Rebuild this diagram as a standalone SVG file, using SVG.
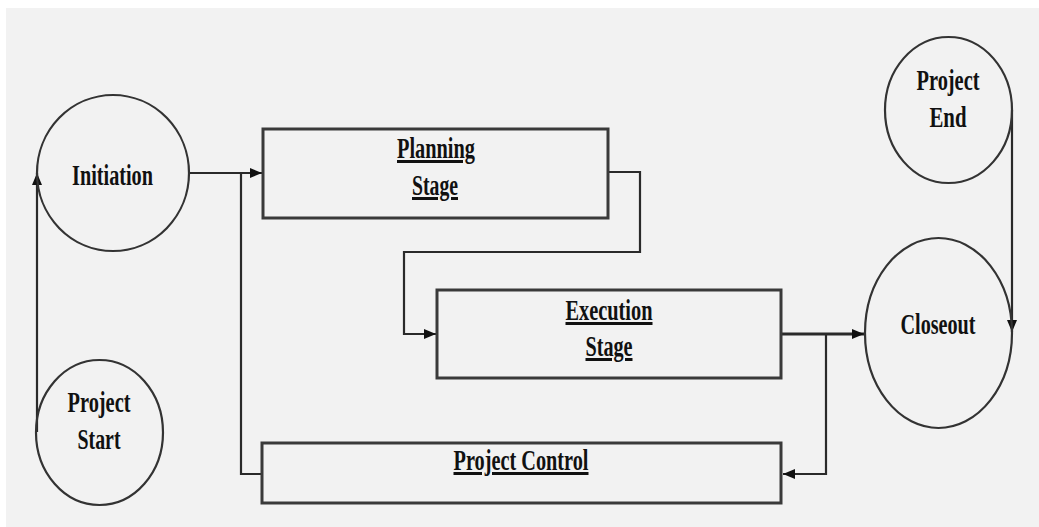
<svg xmlns="http://www.w3.org/2000/svg" width="1039" height="527" viewBox="0 0 1039 527">
  <style>
    .bg { fill: #f2f2f2; }
    .oval { fill: none; stroke: #333; stroke-width: 2.2; }
    .box { fill: none; stroke: #3a3a3a; stroke-width: 3; }
    .conn { fill: none; stroke: #2a2a2a; stroke-width: 2.2; }
    .thick { stroke-width: 3; }
    .lbl { font-family: "Liberation Serif", "Times New Roman", serif; font-weight: bold; font-size: 30px; fill: #111; text-anchor: middle; }
    .ul { text-decoration: underline; }
  </style>
  <defs>
    <marker id="arr" viewBox="0 0 12 10" refX="12" refY="5" markerWidth="12" markerHeight="10" markerUnits="userSpaceOnUse" orient="auto">
      <path d="M0,0 L12,5 L0,10 Z" fill="#111"/>
    </marker>
  </defs>
  <rect width="1039" height="527" fill="#ffffff"/>
  <rect class="bg" x="6" y="8" width="1033" height="519"/>

  <g id="connectors">
    <path class="conn" d="M37,432 L37,173" marker-end="url(#arr)"/>
    <path class="conn" d="M189,173 L262,173" marker-end="url(#arr)"/>
    <path class="conn" d="M608,172 L640,172 L640,252 L404,252 L404,334 L436,334" marker-end="url(#arr)"/>
    <path class="conn thick" d="M781,334 L864,334" marker-end="url(#arr)"/>
    <path class="conn" d="M826,334 L826,474 L783,474" marker-end="url(#arr)"/>
    <path class="conn" d="M262,474 L241,474 L241,173"/>
    <path class="conn" d="M1012,110 L1012,332" marker-end="url(#arr)"/>
  </g>

  <g id="initiation">
    <ellipse class="oval" cx="113" cy="173" rx="76" ry="78"/>
    <text class="lbl" x="112.5" y="185" textLength="81" lengthAdjust="spacingAndGlyphs">Initiation</text>
  </g>

  <g id="project-start">
    <ellipse class="oval" cx="99.5" cy="432.5" rx="63.5" ry="72.5"/>
    <text class="lbl" x="99" y="412" textLength="63" lengthAdjust="spacingAndGlyphs">Project</text>
    <text class="lbl" x="99" y="449" textLength="43" lengthAdjust="spacingAndGlyphs">Start</text>
  </g>

  <g id="planning">
    <rect class="box" x="263" y="129" width="345" height="89"/>
    <text class="lbl ul" x="436" y="158" textLength="78" lengthAdjust="spacingAndGlyphs">Planning</text>
    <text class="lbl ul" x="435" y="195" textLength="46" lengthAdjust="spacingAndGlyphs">Stage</text>
  </g>

  <g id="execution">
    <rect class="box" x="437" y="290" width="344" height="88"/>
    <text class="lbl ul" x="609" y="320" textLength="87" lengthAdjust="spacingAndGlyphs">Execution</text>
    <text class="lbl ul" x="609" y="356" textLength="47" lengthAdjust="spacingAndGlyphs">Stage</text>
  </g>

  <g id="project-control">
    <rect class="box" x="262" y="443" width="519" height="60"/>
    <text class="lbl ul" x="521" y="470" textLength="135" lengthAdjust="spacingAndGlyphs">Project Control</text>
  </g>

  <g id="closeout">
    <ellipse class="oval" cx="938.5" cy="333" rx="73.5" ry="95"/>
    <text class="lbl" x="938" y="334" textLength="75" lengthAdjust="spacingAndGlyphs">Closeout</text>
  </g>

  <g id="project-end">
    <ellipse class="oval" cx="948.5" cy="110" rx="63.5" ry="73"/>
    <text class="lbl" x="948" y="90" textLength="63" lengthAdjust="spacingAndGlyphs">Project</text>
    <text class="lbl" x="948" y="127" textLength="37" lengthAdjust="spacingAndGlyphs">End</text>
  </g>
</svg>
